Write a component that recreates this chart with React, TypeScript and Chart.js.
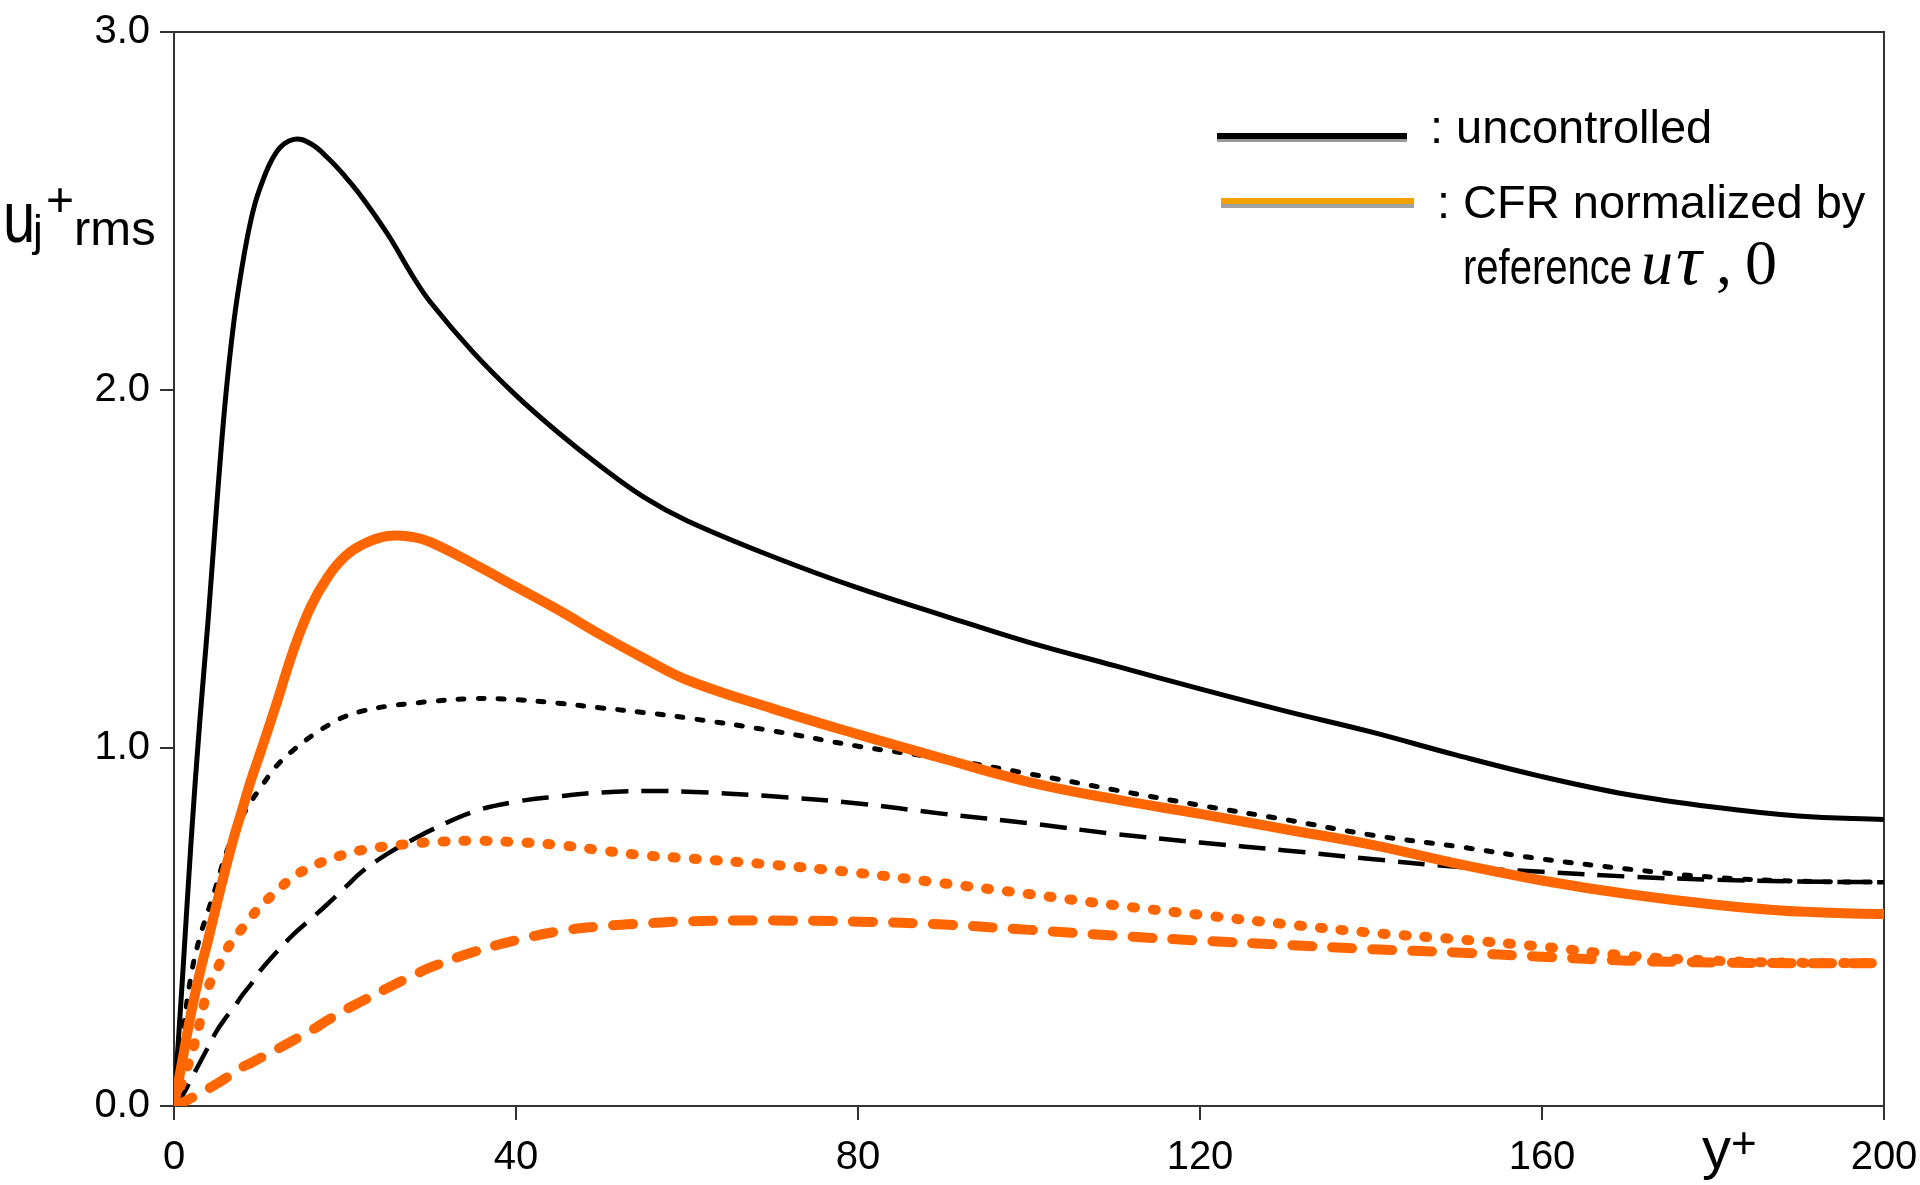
import { useEffect, useRef } from 'react';
import { Chart, registerables } from 'chart.js';

Chart.register(...registerables);

// Wall-normal positions y+ shared by every profile
const yPlus = [
  0, 1, 2, 3, 4, 5, 6, 7, 8, 9, 10, 12, 14, 16, 18, 20, 22, 25, 28, 30, 35, 40, 45, 50, 55, 60,
  70, 80, 90, 100, 110, 120, 130, 140, 150, 160, 170, 180, 190, 200,
];

// Uncontrolled channel: streamwise (solid), spanwise (dotted), wall-normal (dashed)
const uRmsUncontrolled = [
  0, 0.36, 0.74, 1.07, 1.36, 1.68, 1.97, 2.19, 2.35, 2.475, 2.56, 2.665, 2.70, 2.688, 2.648, 2.597,
  2.538, 2.435, 2.315, 2.245, 2.105, 1.985, 1.88, 1.785, 1.70, 1.635, 1.535, 1.447, 1.37, 1.295,
  1.23, 1.165, 1.103, 1.045, 0.98, 0.92, 0.87, 0.835, 0.81, 0.80,
];
const wRmsUncontrolled = [
  0, 0.195, 0.365, 0.47, 0.545, 0.62, 0.70, 0.76, 0.81, 0.85, 0.885, 0.95, 0.995, 1.032, 1.063,
  1.088, 1.103, 1.117, 1.125, 1.13, 1.138, 1.135, 1.125, 1.112, 1.099, 1.084, 1.048, 1.005, 0.97,
  0.928, 0.883, 0.84, 0.80, 0.757, 0.725, 0.69, 0.662, 0.639, 0.628, 0.625,
];
const vRmsUncontrolled = [
  0, 0.03, 0.075, 0.12, 0.165, 0.21, 0.245, 0.275, 0.31, 0.34, 0.375, 0.43, 0.48, 0.522, 0.565,
  0.61, 0.655, 0.705, 0.745, 0.77, 0.822, 0.85, 0.865, 0.876, 0.88, 0.878, 0.865, 0.845, 0.816,
  0.79, 0.76, 0.736, 0.714, 0.69, 0.668, 0.654, 0.641, 0.632, 0.627, 0.625,
];

// Constant-flow-rate control, normalized by the reference friction velocity
const uRmsCfr = [
  0, 0.13, 0.26, 0.37, 0.465, 0.565, 0.66, 0.75, 0.83, 0.91, 0.98, 1.125, 1.275, 1.395, 1.478,
  1.535, 1.568, 1.592, 1.589, 1.575, 1.515, 1.45, 1.385, 1.315, 1.25, 1.19, 1.11, 1.038, 0.97,
  0.905, 0.857, 0.816, 0.773, 0.73, 0.677, 0.63, 0.592, 0.563, 0.543, 0.536,
];
const wRmsCfr = [
  0, 0.07, 0.14, 0.23, 0.33, 0.38, 0.43, 0.467, 0.497, 0.527, 0.555, 0.60, 0.641, 0.667, 0.688,
  0.703, 0.715, 0.726, 0.733, 0.737, 0.741, 0.737, 0.729, 0.714, 0.70, 0.692, 0.674, 0.651, 0.622,
  0.592, 0.561, 0.534, 0.508, 0.484, 0.466, 0.445, 0.42, 0.406, 0.40, 0.399,
];
const vRmsCfr = [
  0, 0.01, 0.022, 0.035, 0.048, 0.062, 0.077, 0.093, 0.109, 0.12, 0.133, 0.158, 0.184, 0.21, 0.24,
  0.268, 0.293, 0.33, 0.365, 0.387, 0.43, 0.463, 0.488, 0.502, 0.51, 0.516, 0.518, 0.515, 0.507,
  0.492, 0.476, 0.462, 0.45, 0.438, 0.429, 0.417, 0.406, 0.401, 0.399, 0.399,
];

const xTickValues = [0, 40, 80, 120, 160, 200];
const yTickValues = [0, 1, 2, 3];
const legendLabels = [': uncontrolled', ': CFR normalized by', 'reference'];

const ORANGE = '#FF6600';
const AXIS = '#333333';
const SANS = '"Liberation Sans", Arial, Helvetica, sans-serif';
const SERIF = '"Liberation Serif", "Times New Roman", serif';

const toPoints = (ys: number[]) => yPlus.map((x, i) => ({ x, y: ys[i] }));

function text(
  ctx: CanvasRenderingContext2D,
  s: string,
  x: number,
  y: number,
  font: string,
  sy = 1,
  sx = 1,
) {
  ctx.save();
  ctx.font = font;
  ctx.fillStyle = '#000';
  ctx.textAlign = 'left';
  ctx.textBaseline = 'alphabetic';
  ctx.translate(x, y);
  ctx.scale(sx, sy);
  ctx.fillText(s, 0, 0);
  ctx.restore();
}

const framePlugin = {
  id: 'frame',
  beforeDatasetsDraw(chart: any) {
    const { ctx, chartArea: a } = chart;
    ctx.save();
    ctx.strokeStyle = AXIS;
    ctx.lineWidth = 2;
    ctx.beginPath();
    ctx.moveTo(a.left, a.top);
    ctx.lineTo(a.right, a.top);
    ctx.lineTo(a.right, a.bottom);
    ctx.stroke();
    ctx.restore();
  },
  afterDraw(chart: any) {
    const { ctx } = chart;
    // y-axis title: u_j^+ rms
    text(ctx, 'u', 3, 242, `58px ${SANS}`, 1.25);
    text(ctx, 'j', 33, 246, `44px ${SANS}`);
    text(ctx, '+', 46, 216, `48px ${SANS}`);
    text(ctx, 'rms', 74, 245, `49px ${SANS}`);
    // x-axis title: y+
    text(ctx, 'y', 1702, 1168, `58px ${SANS}`);
    text(ctx, '+', 1731, 1158, `44px ${SANS}`);

    // legend keys
    ctx.save();
    ctx.fillStyle = '#9a9a9a';
    ctx.fillRect(1217, 139, 190, 3);
    ctx.fillStyle = '#000';
    ctx.fillRect(1217, 133, 190, 6);
    ctx.fillStyle = '#a0a0a0';
    ctx.fillRect(1221, 204, 193, 4);
    ctx.fillStyle = '#F2A100';
    ctx.fillRect(1221, 198, 193, 6);
    ctx.restore();

    text(ctx, legendLabels[0], 1430, 143, `47px ${SANS}`);
    text(ctx, legendLabels[1], 1437, 218, `47px ${SANS}`);
    text(ctx, legendLabels[2], 1463, 284, `50px ${SANS}`, 1, 0.8);
    text(ctx, 'u', 1641, 284, `italic 64px ${SERIF}`);
    text(ctx, 'τ', 1676, 284, `italic 72px ${SERIF}`);
    text(ctx, ',', 1716, 284, `64px ${SERIF}`);
    text(ctx, '0', 1745, 284, `64px ${SERIF}`);
  },
};

export default function App() {
  const canvasRef = useRef<HTMLCanvasElement | null>(null);

  useEffect(() => {
    const canvas = canvasRef.current;
    if (!canvas) return;

    const line = (
      data: number[],
      color: string,
      width: number,
      dash: number[],
      cap: CanvasLineCap,
    ) => ({
      data: toPoints(data),
      borderColor: color,
      borderWidth: width,
      borderDash: dash,
      borderCapStyle: cap,
      borderJoinStyle: 'round' as CanvasLineJoin,
      pointRadius: 0,
      fill: false,
      tension: 0.4,
    });

    const chart = new Chart(canvas, {
      type: 'line',
      data: {
        datasets: [
          // first dataset is painted last (on top)
          line(uRmsCfr, ORANGE, 10, [], 'round'),
          line(wRmsCfr, ORANGE, 10, [3, 18], 'round'),
          line(vRmsCfr, ORANGE, 10, [20, 20], 'round'),
          line(uRmsUncontrolled, '#000', 5, [], 'round'),
          line(wRmsUncontrolled, '#000', 5, [6, 14], 'round'),
          line(vRmsUncontrolled, '#000', 4.5, [27, 13], 'butt'),
        ] as any,
      },
      options: {
        animation: false,
        responsive: false,
        devicePixelRatio: 1,
        layout: { padding: { top: 32, right: 36, bottom: 0, left: 0 } },
        plugins: { legend: { display: false }, tooltip: { enabled: false } },
        scales: {
          x: {
            type: 'linear',
            min: 0,
            max: 200,
            afterBuildTicks: (s: any) => {
              s.ticks = xTickValues.map((value) => ({ value }));
            },
            afterFit: (s: any) => {
              s.height = 79;
              s.paddingLeft = 0;
              s.paddingRight = 0;
            },
            grid: {
              drawOnChartArea: false,
              drawTicks: true,
              tickLength: 14,
              color: AXIS,
              lineWidth: 2,
            },
            border: { display: true, color: AXIS, width: 2 },
            ticks: {
              color: '#000',
              padding: 14,
              maxRotation: 0,
              font: { family: SANS, size: 40 },
              callback: (v: any) => String(v),
            },
          },
          y: {
            type: 'linear',
            min: 0,
            max: 3,
            afterBuildTicks: (s: any) => {
              s.ticks = yTickValues.map((value) => ({ value }));
            },
            afterFit: (s: any) => {
              s.width = 174;
              s.paddingTop = 0;
              s.paddingBottom = 0;
            },
            grid: {
              drawOnChartArea: false,
              drawTicks: true,
              tickLength: 14,
              color: AXIS,
              lineWidth: 2,
            },
            border: { display: true, color: AXIS, width: 2 },
            ticks: {
              color: '#000',
              padding: 10,
              font: { family: SANS, size: 40 },
              callback: (v: any) => Number(v).toFixed(1),
            },
          },
        },
      },
      plugins: [framePlugin],
    });

    return () => chart.destroy();
  }, []);

  return (
    <div style={{ position: 'fixed', left: 0, top: 0, width: 1920, height: 1185, background: '#fff' }}>
      <canvas ref={canvasRef} width={1920} height={1185} style={{ display: 'block' }} />
    </div>
  );
}
